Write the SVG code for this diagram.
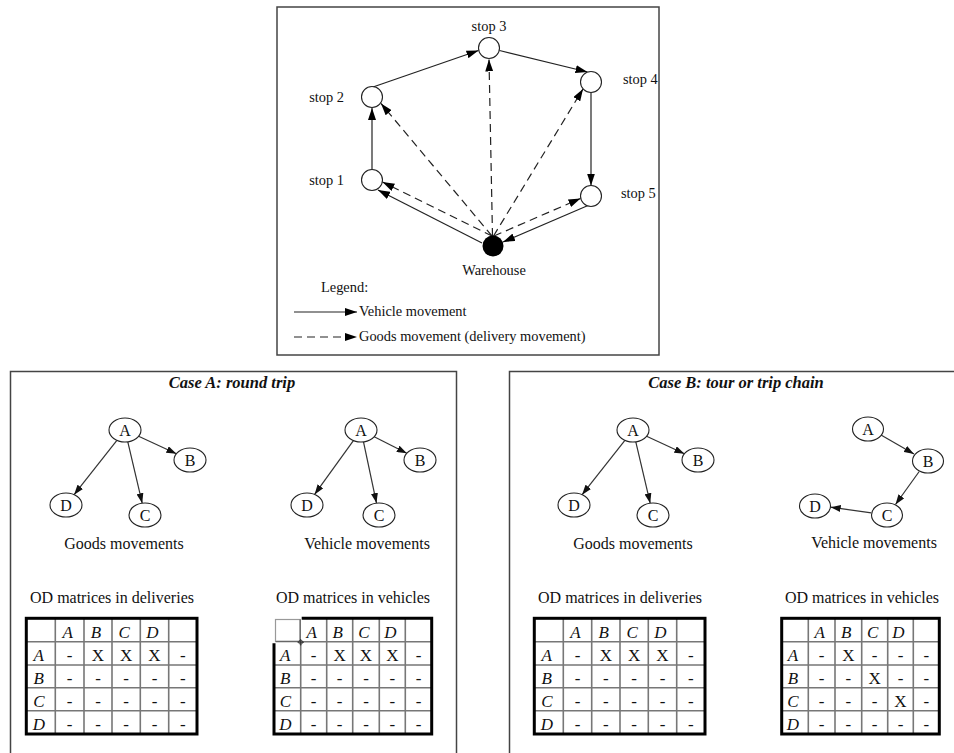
<svg xmlns="http://www.w3.org/2000/svg" width="954" height="753" viewBox="0 0 954 753">
<style>
text{font-family:"Liberation Serif","Times New Roman",serif;fill:#111}
.t14{font-size:14.4px}
.t16{font-size:16px}
.title{font-size:16.5px;font-weight:bold;font-style:italic}
.mid{text-anchor:middle}
.end{text-anchor:end}
.frame{fill:none;stroke:#444;stroke-width:1.5}
.stop{fill:#fff;stroke:#222;stroke-width:1.1}
.vm{fill:none;stroke:#222;stroke-width:1.2;marker-end:url(#ah)}
.gm{fill:none;stroke:#222;stroke-width:1.2;stroke-dasharray:8 5;marker-end:url(#ah)}
.nd{fill:#fff;stroke:#222;stroke-width:1.1}
.ed{fill:none;stroke:#333;stroke-width:1.2;marker-end:url(#ah2)}
.grid{fill:none;stroke:#777;stroke-width:1.6}
.outer{fill:none;stroke:#000;stroke-width:3}
.th{font-size:17px;font-style:italic;text-anchor:middle}
.td{font-size:17px;text-anchor:middle}
</style>
<defs>
<marker id="ah" viewBox="0 0 12 8" markerWidth="12" markerHeight="8" refX="12" refY="4" orient="auto" markerUnits="userSpaceOnUse"><path d="M0,0 L12,4 L0,8 z" fill="#000"/></marker>
<marker id="ah2" viewBox="0 0 10 7" markerWidth="10" markerHeight="7" refX="10" refY="3.5" orient="auto" markerUnits="userSpaceOnUse"><path d="M0,0 L10,3.5 L0,7 z" fill="#111"/></marker>
</defs>

<!-- Top diagram -->
<rect class="frame" x="277" y="7" width="382" height="348"/>
<g id="connectors-top">
<line class="vm" x1="482" y1="243" x2="378" y2="190"/>
<line class="vm" x1="372" y1="169.5" x2="372" y2="108"/>
<line class="vm" x1="373" y1="87" x2="478.5" y2="50.5"/>
<line class="vm" x1="499.5" y1="50.5" x2="587.5" y2="72"/>
<line class="vm" x1="591" y1="92.5" x2="591" y2="185.5"/>
<line class="vm" x1="588" y1="205.5" x2="503" y2="242"/>
<line class="gm" x1="492" y1="236" x2="382.5" y2="182"/>
<line class="gm" x1="492" y1="236" x2="381" y2="103.5"/>
<line class="gm" x1="492.5" y1="236" x2="489" y2="59.5"/>
<line class="gm" x1="493.5" y1="236" x2="583" y2="89"/>
<line class="gm" x1="494" y1="236" x2="580.5" y2="198.5"/>
</g>
<g id="stop1"><circle class="stop" cx="372" cy="180" r="10.5"/><text class="t14 end" x="344" y="185">stop 1</text></g>
<g id="stop2"><circle class="stop" cx="372" cy="97" r="10.5"/><text class="t14 end" x="344" y="102">stop 2</text></g>
<g id="stop3"><circle class="stop" cx="489" cy="48" r="10.5"/><text class="t14 mid" x="489" y="31">stop 3</text></g>
<g id="stop4"><circle class="stop" cx="591" cy="82" r="10.5"/><text class="t14" x="623" y="84">stop 4</text></g>
<g id="stop5"><circle class="stop" cx="591" cy="196" r="10.5"/><text class="t14" x="621" y="198">stop 5</text></g>
<g id="warehouse"><circle cx="493" cy="246" r="10.5" fill="#000"/><text class="t14 mid" x="494" y="275">Warehouse</text></g>
<g id="legend">
<text class="t14" x="321" y="292">Legend:</text>
<line class="vm" x1="294" y1="312" x2="357" y2="312"/>
<text class="t14" x="359" y="316">Vehicle movement</text>
<line class="gm" x1="294" y1="337" x2="357" y2="337"/>
<text class="t14" x="359" y="341">Goods movement (delivery movement)</text>
</g>

<!-- Case A -->
<rect class="frame" x="10.5" y="371.5" width="446" height="400"/>
<text class="title mid" x="232" y="388">Case A: round trip</text>
<!-- Case B -->
<rect class="frame" x="509.5" y="371.5" width="460" height="400"/>
<text class="title mid" x="736" y="388">Case B: tour or trip chain</text>

<g id="connectors-cases">
<line class="ed" x1="138.6" y1="436.3" x2="176.4" y2="453.7"/>
<line class="ed" x1="116.9" y1="440.3" x2="74.1" y2="494.7"/>
<line class="ed" x1="127.8" y1="441.8" x2="142.2" y2="503.2"/>
<line class="ed" x1="374.2" y1="436.7" x2="406.8" y2="453.3"/>
<line class="ed" x1="353.4" y1="440.6" x2="314.6" y2="494.4"/>
<line class="ed" x1="363.5" y1="441.9" x2="376.5" y2="503.1"/>
<line class="ed" x1="646.6" y1="436.3" x2="684.4" y2="453.7"/>
<line class="ed" x1="624.9" y1="440.3" x2="582.1" y2="494.7"/>
<line class="ed" x1="635.8" y1="441.8" x2="650.2" y2="503.2"/>
<line class="ed" x1="881" y1="435" x2="914" y2="454"/>
<line class="ed" x1="919.2" y1="471.5" x2="895.5" y2="504.5"/>
<line class="ed" x1="871.3" y1="512.8" x2="830.7" y2="507.2"/>
</g>

<g id="a-goods-A"><ellipse class="nd" cx="125" cy="430" rx="16" ry="12"/><text class="t16 mid" x="125" y="435.5">A</text></g>
<g id="a-goods-B"><ellipse class="nd" cx="190" cy="460" rx="16" ry="12"/><text class="t16 mid" x="190" y="465.5">B</text></g>
<g id="a-goods-D"><ellipse class="nd" cx="66" cy="505" rx="16" ry="12"/><text class="t16 mid" x="66" y="510.5">D</text></g>
<g id="a-goods-C"><ellipse class="nd" cx="145" cy="515" rx="16" ry="12"/><text class="t16 mid" x="145" y="520.5">C</text></g>
<text class="t16 mid" x="124" y="549">Goods movements</text>

<g id="a-veh-A"><ellipse class="nd" cx="361" cy="430" rx="16" ry="12"/><text class="t16 mid" x="361" y="435.5">A</text></g>
<g id="a-veh-B"><ellipse class="nd" cx="420" cy="460" rx="16" ry="12"/><text class="t16 mid" x="420" y="465.5">B</text></g>
<g id="a-veh-D"><ellipse class="nd" cx="307" cy="505" rx="16" ry="12"/><text class="t16 mid" x="307" y="510.5">D</text></g>
<g id="a-veh-C"><ellipse class="nd" cx="379" cy="515" rx="16" ry="12"/><text class="t16 mid" x="379" y="520.5">C</text></g>
<text class="t16 mid" x="367" y="549">Vehicle movements</text>

<g id="b-goods-A"><ellipse class="nd" cx="633" cy="430" rx="16" ry="12"/><text class="t16 mid" x="633" y="435.5">A</text></g>
<g id="b-goods-B"><ellipse class="nd" cx="698" cy="460" rx="16" ry="12"/><text class="t16 mid" x="698" y="465.5">B</text></g>
<g id="b-goods-D"><ellipse class="nd" cx="574" cy="505" rx="16" ry="12"/><text class="t16 mid" x="574" y="510.5">D</text></g>
<g id="b-goods-C"><ellipse class="nd" cx="653" cy="515" rx="16" ry="12"/><text class="t16 mid" x="653" y="520.5">C</text></g>
<text class="t16 mid" x="633" y="549">Goods movements</text>

<g id="b-veh-A"><ellipse class="nd" cx="868" cy="429" rx="15.5" ry="12"/><text class="t16 mid" x="868" y="434.5">A</text></g>
<g id="b-veh-B"><ellipse class="nd" cx="928" cy="461" rx="15.5" ry="12"/><text class="t16 mid" x="928" y="466.5">B</text></g>
<g id="b-veh-C"><ellipse class="nd" cx="887" cy="515" rx="15.5" ry="12"/><text class="t16 mid" x="887" y="520.5">C</text></g>
<g id="b-veh-D"><ellipse class="nd" cx="815" cy="506" rx="15.5" ry="12"/><text class="t16 mid" x="815" y="511.5">D</text></g>
<text class="t16 mid" x="874" y="548">Vehicle movements</text>

<!-- Table 1: Case A deliveries -->
<g id="table-a-deliveries">
<text class="t16 mid" x="112" y="603">OD matrices in deliveries</text>
<path class="grid" d="M55.3,618.3V734M84,618.3V734M112,618.3V734M140.3,618.3V734M168.7,618.3V734M26.3,641.7H197M26.3,665H197M26.3,687.7H197M26.3,710.7H197"/>
<rect class="outer" x="26.3" y="618.3" width="170.7" height="115.7"/>
<text class="th" x="67.7" y="638">A</text><text class="th" x="96" y="638">B</text><text class="th" x="124.2" y="638">C</text><text class="th" x="152.5" y="638">D</text>
<text class="th" x="38.8" y="661">A</text><text class="th" x="38.8" y="684">B</text><text class="th" x="38.8" y="707">C</text><text class="th" x="38.8" y="730">D</text>
<text class="td" x="69.6" y="661">-</text><text class="td" x="98" y="661">X</text><text class="td" x="126.2" y="661">X</text><text class="td" x="154.5" y="661">X</text><text class="td" x="182.8" y="661">-</text>
<text class="td" x="69.6" y="684">-</text><text class="td" x="98" y="684">-</text><text class="td" x="126.2" y="684">-</text><text class="td" x="154.5" y="684">-</text><text class="td" x="182.8" y="684">-</text>
<text class="td" x="69.6" y="707">-</text><text class="td" x="98" y="707">-</text><text class="td" x="126.2" y="707">-</text><text class="td" x="154.5" y="707">-</text><text class="td" x="182.8" y="707">-</text>
<text class="td" x="69.6" y="730">-</text><text class="td" x="98" y="730">-</text><text class="td" x="126.2" y="730">-</text><text class="td" x="154.5" y="730">-</text><text class="td" x="182.8" y="730">-</text>
</g>

<!-- Table 2: Case A vehicles -->
<g id="table-a-vehicles">
<text class="t16 mid" x="353" y="603">OD matrices in vehicles</text>
<path class="grid" d="M300.7,641.7V734M326.7,618.3V734M352.7,618.3V734M379.3,618.3V734M405.3,618.3V734M300.7,641.7H431.7M274,665H431.7M274,687.7H431.7M274,710.7H431.7"/>
<path d="M301.7,618.3H431.7V734H274V643.3" fill="none" stroke="#000" stroke-width="3"/>
<rect x="275.5" y="619.5" width="24.7" height="21.7" fill="none" stroke="#999" stroke-width="1.2"/>
<path d="M300.2,619.5V641.7H275.5" fill="none" stroke="#666" stroke-width="1.3"/>
<path d="M297.5,642.2H304M300.7,639V645.5" stroke="#333" stroke-width="1"/>
<circle cx="300.7" cy="642.2" r="2" fill="none" stroke="#333" stroke-width="0.8"/>
<text class="th" x="311.7" y="638">A</text><text class="th" x="337.7" y="638">B</text><text class="th" x="364" y="638">C</text><text class="th" x="390.3" y="638">D</text>
<text class="th" x="285.3" y="661">A</text><text class="th" x="285.3" y="684">B</text><text class="th" x="285.3" y="707">C</text><text class="th" x="285.3" y="730">D</text>
<text class="td" x="313.7" y="661">-</text><text class="td" x="339.7" y="661">X</text><text class="td" x="366" y="661">X</text><text class="td" x="392.3" y="661">X</text><text class="td" x="418.5" y="661">-</text>
<text class="td" x="313.7" y="684">-</text><text class="td" x="339.7" y="684">-</text><text class="td" x="366" y="684">-</text><text class="td" x="392.3" y="684">-</text><text class="td" x="418.5" y="684">-</text>
<text class="td" x="313.7" y="707">-</text><text class="td" x="339.7" y="707">-</text><text class="td" x="366" y="707">-</text><text class="td" x="392.3" y="707">-</text><text class="td" x="418.5" y="707">-</text>
<text class="td" x="313.7" y="730">-</text><text class="td" x="339.7" y="730">-</text><text class="td" x="366" y="730">-</text><text class="td" x="392.3" y="730">-</text><text class="td" x="418.5" y="730">-</text>
</g>

<!-- Table 3: Case B deliveries -->
<g id="table-b-deliveries">
<text class="t16 mid" x="620" y="603">OD matrices in deliveries</text>
<path class="grid" d="M563.3,618.3V734M591.7,618.3V734M620,618.3V734M648.3,618.3V734M676.7,618.3V734M534.3,641.7H705M534.3,665H705M534.3,687.7H705M534.3,710.7H705"/>
<rect class="outer" x="534.3" y="618.3" width="170.7" height="115.7"/>
<text class="th" x="575.5" y="638">A</text><text class="th" x="603.8" y="638">B</text><text class="th" x="632.2" y="638">C</text><text class="th" x="660.5" y="638">D</text>
<text class="th" x="546.8" y="661">A</text><text class="th" x="546.8" y="684">B</text><text class="th" x="546.8" y="707">C</text><text class="th" x="546.8" y="730">D</text>
<text class="td" x="577.5" y="661">-</text><text class="td" x="605.8" y="661">X</text><text class="td" x="634.2" y="661">X</text><text class="td" x="662.5" y="661">X</text><text class="td" x="690.8" y="661">-</text>
<text class="td" x="577.5" y="684">-</text><text class="td" x="605.8" y="684">-</text><text class="td" x="634.2" y="684">-</text><text class="td" x="662.5" y="684">-</text><text class="td" x="690.8" y="684">-</text>
<text class="td" x="577.5" y="707">-</text><text class="td" x="605.8" y="707">-</text><text class="td" x="634.2" y="707">-</text><text class="td" x="662.5" y="707">-</text><text class="td" x="690.8" y="707">-</text>
<text class="td" x="577.5" y="730">-</text><text class="td" x="605.8" y="730">-</text><text class="td" x="634.2" y="730">-</text><text class="td" x="662.5" y="730">-</text><text class="td" x="690.8" y="730">-</text>
</g>

<!-- Table 4: Case B vehicles -->
<g id="table-b-vehicles">
<text class="t16 mid" x="862" y="603">OD matrices in vehicles</text>
<path class="grid" d="M808.3,618.3V734M835,618.3V734M861.7,618.3V734M887.7,618.3V734M913.3,618.3V734M781.7,641.7H939.3M781.7,665H939.3M781.7,687.7H939.3M781.7,710.7H939.3"/>
<rect class="outer" x="781.7" y="618.3" width="157.6" height="115.7"/>
<text class="th" x="819.6" y="638">A</text><text class="th" x="846.3" y="638">B</text><text class="th" x="872.7" y="638">C</text><text class="th" x="898.5" y="638">D</text>
<text class="th" x="793" y="661">A</text><text class="th" x="793" y="684">B</text><text class="th" x="793" y="707">C</text><text class="th" x="793" y="730">D</text>
<text class="td" x="821.6" y="661">-</text><text class="td" x="848.3" y="661">X</text><text class="td" x="874.7" y="661">-</text><text class="td" x="900.5" y="661">-</text><text class="td" x="926.3" y="661">-</text>
<text class="td" x="821.6" y="684">-</text><text class="td" x="848.3" y="684">-</text><text class="td" x="874.7" y="684">X</text><text class="td" x="900.5" y="684">-</text><text class="td" x="926.3" y="684">-</text>
<text class="td" x="821.6" y="707">-</text><text class="td" x="848.3" y="707">-</text><text class="td" x="874.7" y="707">-</text><text class="td" x="900.5" y="707">X</text><text class="td" x="926.3" y="707">-</text>
<text class="td" x="821.6" y="730">-</text><text class="td" x="848.3" y="730">-</text><text class="td" x="874.7" y="730">-</text><text class="td" x="900.5" y="730">-</text><text class="td" x="926.3" y="730">-</text>
</g>
</svg>
